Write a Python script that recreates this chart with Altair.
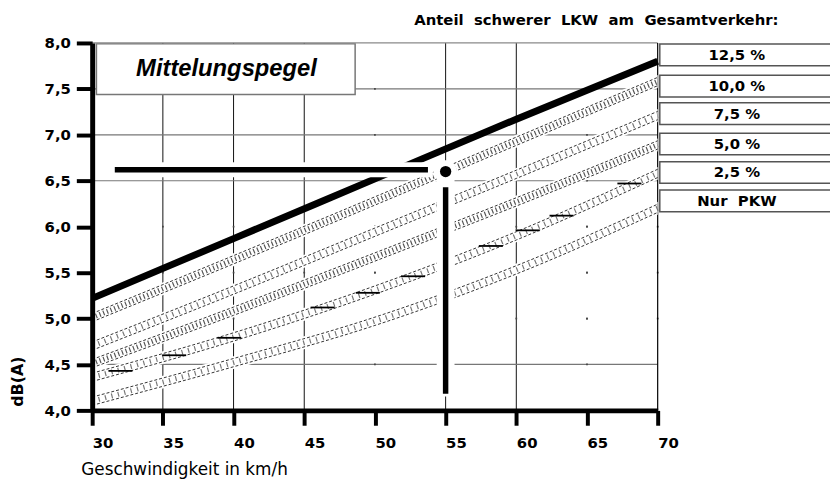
import altair as alt
import pandas as pd

# ---------------- data ----------------
speeds = [30, 40, 50, 60, 70]
lkw_125 = [5.22, 5.87, 6.52, 7.17, 7.80]
lkw_100 = [5.01, 5.64, 6.28, 6.93, 7.58]
lkw_075 = [4.70, 5.31, 5.94, 6.57, 7.21]
lkw_050 = [4.51, 5.08, 5.67, 6.27, 6.89]
lkw_025 = [4.36, 4.80, 5.31, 5.90, 6.58]
nur_pkw = [4.10, 4.52, 4.97, 5.53, 6.20]

# short dash symbols drawn on the 2,5 % band
sym_speeds = [32.0, 35.8, 39.7, 46.3, 49.5, 52.7, 58.2, 60.8, 63.2, 68.0]
sym_levels = [4.43, 4.60, 4.79, 5.12, 5.28, 5.46, 5.79, 5.96, 6.12, 6.47]

NB = "\u00a0"
band_names = ["10,0 %", "7,5 %", "5,0 %", "2,5 %", "Nur PKW"]
band_values = [lkw_100, lkw_075, lkw_050, lkw_025, nur_pkw]
dense_bands = ["10,0 %", "5,0 %"]

legend_labels = ["12,5 %", "10,0 %", "7,5 %", "5,0 %", "2,5 %", "Nur" + NB + NB + "PKW"]
legend_levels = [7.87, 7.53, 7.23, 6.90, 6.59, 6.28]

x_ticks = [30, 35, 40, 45, 50, 55, 60, 65, 70]
y_ticks = [4.0, 4.5, 5.0, 5.5, 6.0, 6.5, 7.0, 7.5, 8.0]
x_grid_solid = [35, 40, 45, 55, 60]
x_grid_faint = [50, 65]
y_grid_solid = [4.5, 6.5, 7.0, 7.5]
y_grid_faint = [5.0, 5.5, 6.0]

marker_speed = 55
marker_level = 6.62

# ---------------- tables ----------------
thick_df = pd.DataFrame({"speed": speeds, "value": lkw_125})
band_df = pd.DataFrame(
    [{"series": n, "speed": s, "value": v, "dense": n in dense_bands}
     for n, vals in zip(band_names, band_values)
     for s, v in zip(speeds, vals)]
)
legend_df = pd.DataFrame({"label": legend_labels, "level": legend_levels})
sym_df = pd.DataFrame({"speed": sym_speeds, "value": sym_levels})
faint_df = pd.DataFrame(
    [{"sx": sx, "sy": sy} for sx in x_grid_faint for sy in y_ticks[1:-1]]
    + [{"sx": sx, "sy": sy} for sx in x_ticks[1:] for sy in y_grid_faint]
)

W, H = 571, 371
xs = alt.Scale(domain=[30, 70], nice=False, zero=False)
ys = alt.Scale(domain=[4, 8], nice=False, zero=False)
NUM_FONT = "DejaVu Sans"
TXT_FONT = "Liberation Sans"

x_axis = alt.Axis(
    values=x_ticks, title=None, grid=False, domainColor="black", domainWidth=5,
    tickColor="black", tickWidth=4, tickSize=15,
    labelFont=NUM_FONT, labelFontWeight="bold", labelFontSize=15,
    labelColor="black", labelPadding=10, labelAlign="left", labelBaseline="top",
    labelFlush=False, labelOverlap=False, zindex=2)
y_axis = alt.Axis(
    values=y_ticks, title=None, grid=False, domainColor="black", domainWidth=5,
    tickColor="black", tickWidth=4, tickSize=16,
    labelFont=NUM_FONT, labelFontWeight="bold", labelFontSize=15,
    labelColor="black", labelPadding=6, labelFlush=False, labelOverlap=False,
    labelExpr="replace(format(datum.value, '.1f'), '.', ',')", zindex=2)


def X(field):
    return alt.X(field, type="quantitative", scale=xs, axis=x_axis)


def Y(field):
    return alt.Y(field, type="quantitative", scale=ys, axis=y_axis)


def one(**kw):
    return alt.Chart(pd.DataFrame({k: [v] for k, v in kw.items()}))


# grid
grid_v = alt.Chart(pd.DataFrame({"v": x_grid_solid})).mark_rule(
    color="#111", strokeWidth=1).encode(x=X("v"))
grid_h = alt.Chart(pd.DataFrame({"d": y_grid_solid})).mark_rule(
    color="#777", strokeWidth=1.2).encode(y=Y("d"))
grid_dots = alt.Chart(faint_df).mark_square(
    color="#444", size=3, opacity=1).encode(x=X("sx"), y=Y("sy"))

# title box
title_box = one(x1=30.3, x2=48.6, y1=7.99, y2=7.44).mark_rect(
    fill="white", stroke="#777", strokeWidth=1.5).encode(
    x=X("x1"), x2="x2", y=Y("y1"), y2="y2")
title_txt = one(x=39.5, y=7.72, t="Mittelungspegel").mark_text(
    font=TXT_FONT, fontStyle="italic", fontWeight="bold",
    fontSize=24, align="center", baseline="middle", color="black").encode(
    x=X("x"), y=Y("y"), text="t:N")

# hatched bands
band_base = alt.Chart(band_df).transform_calculate(
    hi="datum.value + 0.045", lo="datum.value - 0.045",
    hh="datum.value + 0.07", ll="datum.value - 0.07")
band_halo = band_base.mark_area(color="white", opacity=1, interpolate="monotone").encode(
    x=X("speed"), y=Y("hh:Q"), y2="ll:Q", detail="series:N")
band_hi = band_base.mark_line(color="#333", strokeWidth=1, strokeDash=[3, 2],
                              interpolate="monotone").encode(
    x=X("speed"), y=Y("hi:Q"), detail="series:N")
band_lo = band_base.mark_line(color="#333", strokeWidth=1, strokeDash=[3, 2],
                              interpolate="monotone").encode(
    x=X("speed"), y=Y("lo:Q"), detail="series:N")
hatch_dense = band_base.transform_filter("datum.dense").mark_line(
    color="#555", strokeWidth=5, strokeDash=[1.2, 2.8], interpolate="monotone").encode(
    x=X("speed"), y=Y("value:Q"), detail="series:N")
hatch_sparse = band_base.transform_filter("!datum.dense").mark_line(
    color="#777", strokeWidth=5, strokeDash=[1.2, 5.5], interpolate="monotone").encode(
    x=X("speed"), y=Y("value:Q"), detail="series:N")
symbols = alt.Chart(sym_df).transform_calculate(
    xa="datum.speed - 0.85", xb="datum.speed + 0.85").mark_rule(
    color="black", strokeWidth=1.8).encode(x=X("xa:Q"), x2="xb:Q", y=Y("value"))

# thick 12.5 % line
thick = alt.Chart(thick_df).mark_line(color="black", strokeWidth=7,
                                      interpolate="monotone").encode(
    x=X("speed"), y=Y("value"))

# reading marker
m_h_halo = one(x1=31.3, x2=marker_speed - 0.9, y=marker_level).mark_rule(
    color="white", strokeWidth=15).encode(x=X("x1"), x2="x2", y=Y("y"))
m_v_halo = one(x=marker_speed, y1=marker_level - 0.08, y2=4.15).mark_rule(
    color="white", strokeWidth=18).encode(x=X("x"), y=Y("y1"), y2="y2")
m_dot_halo = one(x=marker_speed, y=marker_level - 0.02).mark_point(
    filled=True, color="white", opacity=1, size=520).encode(x=X("x"), y=Y("y"))
m_h = one(x1=31.6, x2=marker_speed - 1.25, y=marker_level).mark_rule(
    color="black", strokeWidth=5.5).encode(x=X("x1"), x2="x2", y=Y("y"))
m_v = one(x=marker_speed, y1=marker_level - 0.19, y2=4.18).mark_rule(
    color="black", strokeWidth=5.5).encode(x=X("x"), y=Y("y1"), y2="y2")
m_dot = one(x=marker_speed, y=marker_level - 0.02).mark_point(
    filled=True, color="black", opacity=1, size=130).encode(x=X("x"), y=Y("y"))

# frame (top gray, right black)
frame_top = one(d=8.0).mark_rule(color="#8a8a8a", strokeWidth=1.2).encode(y=Y("d"))
frame_right = one(v=70).mark_rule(color="black", strokeWidth=1.2).encode(x=X("v"))

# legend boxes
leg_base = alt.Chart(legend_df).transform_calculate(
    top="datum.level + 0.118", bot="datum.level - 0.118",
    x1="70.15", x2="84", xt="75.6")
leg_box = leg_base.mark_rect(fill="white", stroke="#555", strokeWidth=1.5).encode(
    x=X("x1:Q"), x2="x2:Q", y=Y("top:Q"), y2="bot:Q")
leg_txt = leg_base.mark_text(font=NUM_FONT, fontWeight="bold", fontSize=15,
                             align="center", baseline="middle", color="black").encode(
    x=X("xt:Q"), y=Y("level:Q"), text="label:N")

# texts
hdr = NB.join(["Anteil", "", "schwerer", "", "LKW", "", "am", "", "Gesamtverkehr:"])
header = one(t=hdr).mark_text(
    font=NUM_FONT, fontWeight="bold", fontSize=15, align="right", baseline="middle",
    color="black").encode(x=alt.value(693), y=alt.value(-23), text="t:N")
x_title = one(t="Geschwindigkeit in km/h").mark_text(
    font=NUM_FONT, fontSize=17, align="left",
    baseline="middle", color="black").encode(x=alt.value(-11), y=alt.value(431), text="t:N")
y_title = one(t="dB(A)").mark_text(
    font=NUM_FONT, fontWeight="bold", fontSize=16, angle=270,
    align="center", baseline="middle", color="black").encode(
    x=alt.value(-75), y=alt.value(342), text="t:N")

chart = alt.layer(
    grid_v, grid_h, grid_dots, frame_top, frame_right,
    band_halo, band_hi, band_lo, hatch_dense, hatch_sparse, symbols,
    thick,
    title_box, title_txt,
    m_h_halo, m_v_halo, m_dot_halo, m_h, m_v, m_dot,
    leg_box, leg_txt, header, x_title, y_title,
).properties(
    width=W, height=H,
    autosize=alt.AutoSizeParams(type="none"),
    padding={"left": 85, "top": 33, "right": 174, "bottom": 69},
    background="white",
).configure_view(stroke=None)

chart.save("out.html", embed_options={"renderer": "svg", "actions": False})
